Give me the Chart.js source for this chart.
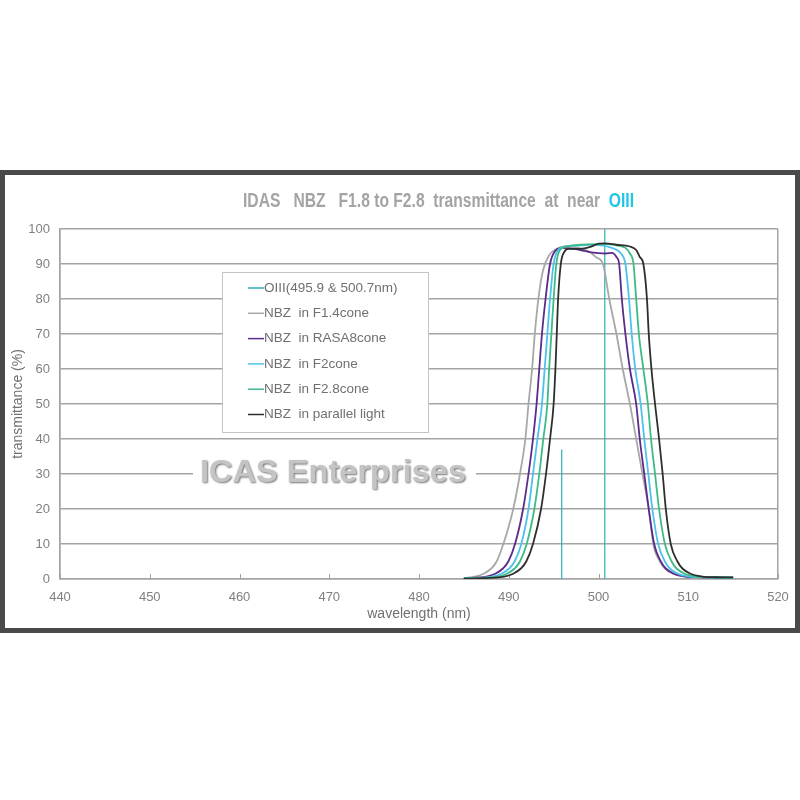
<!DOCTYPE html>
<html>
<head>
<meta charset="utf-8">
<script src="https://cdn.jsdelivr.net/npm/chart.js@4"></script>
<style>
  html,body{margin:0;padding:0;background:#fff}
</style>
</head>
<body>
<canvas id="chart" width="800" height="800"></canvas>
<script>
// wavelength (nm) / transmittance (%)
const f14Wl = [485,486.2,487.2,488.05,488.65,489.4,490,490.5,490.9,491.25,491.85,492.2,492.6,492.9,493.3,493.8,494.5,495.3,496.3,497,498,499,499.7,500.5,501.2,502,502.7,503.5,504.2,504.9,505.6,506.1,506.85,507.4,508.3,509.6,511.5,515];
const f14T  = [0.3,0.7,1.5,3,5,10,15,20,25,30,40,50,60,70,80,88,92.5,94.3,95,94.9,94.5,93.5,92,90,80,70,60,50,40,30,20,10,5,3,1.5,0.7,0.5,0.4];

const rasaWl = [485,487.5,488.5,489.35,489.95,490.7,491.6,492.2,492.7,493.1,493.4,493.7,494.1,494.6,495.2,496,497,498,499,500,500.8,501.5,502,502.3,502.6,503,503.5,504.2,504.6,505.1,505.6,506.2,506.95,507.5,508.4,509.7,511.5,515];
const rasaT  = [0.2,0.7,1.5,3,5,10,20,30,40,50,60,70,80,90,93.8,94.6,94.4,94,93.4,93.1,93,93.2,92,90,80,70,60,50,40,30,20,10,5,3,1.5,0.7,0.5,0.4];

const f2Wl = [485,488.2,489.2,490.05,490.65,491.4,492.2,492.7,493.2,493.7,494,494.3,494.6,495,495.5,496.3,497.5,499,500,501,501.8,502.5,503,503.4,503.7,504.1,504.7,505.1,505.55,506,506.65,507.4,507.95,508.85,510.15,512,515];
const f2T  = [0.2,0.7,1.5,3,5,10,20,30,40,50,60,70,80,90,94,95,95.2,95.5,95.4,95,94.3,93,90,80,70,60,50,40,30,20,10,5,3,1.5,0.7,0.5,0.4];

const f28Wl = [485,488.8,489.8,490.65,491.25,492,492.85,493.4,493.85,494.3,494.5,494.75,495,495.3,495.7,496.4,498,500,501,502,503,503.5,503.9,504.2,504.5,505,505.5,505.85,506.3,506.75,507.4,508.15,508.7,509.6,510.9,512.5,515];
const f28T  = [0.15,0.7,1.5,3,5,10,20,30,40,50,60,70,80,90,94,95,95.5,95.7,95.7,95.3,94.6,93,90,80,70,60,50,40,30,20,10,5,3,1.5,0.7,0.5,0.4];

const parWl = [485,489.5,490.5,491.35,491.95,492.7,493.6,494.15,494.6,495,495.2,495.35,495.5,495.8,496.2,496.7,498,499,500,500.7,502,503.5,504.2,504.6,505,505.4,505.6,505.9,506.3,506.75,507.15,507.5,508.05,508.8,509.35,510.25,511.55,513,515];
const parT  = [0.1,0.7,1.5,3,5,10,20,30,40,50,60,70,80,90,93.5,94.3,94.3,94.8,95.8,95.9,95.5,95,94,92,90,80,70,60,50,40,30,20,10,5,3,1.5,0.7,0.5,0.45];

// OIII marker lines (null breaks the line between the two)
const o3Wl = [495.9,495.9,498,500.7,500.7];
const o3T  = [0,37,null,0,100];

const seriesLabels = ['OIII(495.9 & 500.7nm)','NBZ  in F1.4cone','NBZ  in RASA8cone','NBZ  in F2cone','NBZ  in F2.8cone','NBZ  in parallel light'];
const seriesColors = ['#2fb0b4','#a8a8a8','#5c2a8a','#4cc2ec','#3dbb84','#2e2e2e'];
const xTicks = [440,450,460,470,480,490,500,510,520];

const pts = (xs, ys) => xs.map((x,i)=>({x, y:ys[i]}));

const frame = {
  id:'frame',
  beforeDraw(chart){
    const ctx = chart.ctx;
    ctx.save();
    ctx.fillStyle='#fff';
    ctx.fillRect(0,0,chart.width,chart.height);
    ctx.strokeStyle='#4a4a4a';
    ctx.lineWidth=5;
    ctx.strokeRect(2.5,172.5,795,458);
    ctx.restore();

    // title, squeezed to the narrow width of the original
    ctx.save();
    ctx.font='bold 20px "Liberation Sans", Arial';
    ctx.textBaseline='middle';
    const t1 = 'IDAS   NBZ   F1.8 to F2.8  transmittance  at  near  ';
    const w1 = ctx.measureText(t1).width;
    const w = w1 + ctx.measureText('OIII').width;
    ctx.translate(243,201);
    ctx.scale(391/w,1);
    ctx.fillStyle='#a4a4a4';
    ctx.fillText(t1,0,0);
    ctx.fillStyle='#1ec6e4';
    ctx.fillText('OIII',w1,0);
    ctx.restore();
  },
  beforeDatasetsDraw(chart){
    const ctx = chart.ctx;
    const xs = chart.scales.x, ys = chart.scales.y;
    // small inner ticks on the x axis
    ctx.save();
    ctx.strokeStyle='#a4a4a4'; ctx.lineWidth=1;
    const y0 = ys.getPixelForValue(0);
    xTicks.forEach(v=>{
      const px = Math.round(xs.getPixelForValue(v))+0.5;
      ctx.beginPath(); ctx.moveTo(px,y0); ctx.lineTo(px,y0-5); ctx.stroke();
    });
    ctx.restore();

    // watermark
    ctx.save();
    ctx.fillStyle='#fff';
    ctx.fillRect(193,456,283,34);
    ctx.font='bold 32px "Liberation Sans", Arial';
    ctx.textBaseline='middle';
    const tw = ctx.measureText('ICAS Enterprises').width;
    ctx.translate(200,473);
    ctx.scale(266/tw,1);
    ctx.shadowColor='rgba(0,0,0,0.55)';
    ctx.shadowOffsetX=1; ctx.shadowOffsetY=1; ctx.shadowBlur=2;
    ctx.fillStyle='#c4c4c4';
    ctx.fillText('ICAS Enterprises',0,0);
    ctx.restore();

    // legend box
    ctx.save();
    ctx.fillStyle='#fff';
    ctx.fillRect(222,272,206,160);
    ctx.strokeStyle='#c4c4c4';
    ctx.lineWidth=1;
    ctx.strokeRect(222.5,272.5,206,160);
    ctx.font='13.5px "Liberation Sans", Arial';
    ctx.textBaseline='middle';
    chart.data.datasets.forEach((ds,i)=>{
      const y = 288 + i*25.3;
      ctx.strokeStyle=ds.borderColor;
      ctx.lineWidth=1.5;
      ctx.beginPath(); ctx.moveTo(248,y); ctx.lineTo(264,y); ctx.stroke();
      ctx.fillStyle='#707070';
      ctx.fillText(ds.label,264,y);
    });
    ctx.restore();
  }
};

const datasets = [
  {label:seriesLabels[0], data:pts(o3Wl,o3T), borderColor:seriesColors[0], borderWidth:1.2, tension:0},
  {label:seriesLabels[1], data:pts(f14Wl,f14T), borderColor:seriesColors[1], borderWidth:1.8},
  {label:seriesLabels[2], data:pts(rasaWl,rasaT), borderColor:seriesColors[2], borderWidth:1.8},
  {label:seriesLabels[3], data:pts(f2Wl,f2T), borderColor:seriesColors[3], borderWidth:1.8},
  {label:seriesLabels[4], data:pts(f28Wl,f28T), borderColor:seriesColors[4], borderWidth:1.8},
  {label:seriesLabels[5], data:pts(parWl,parT), borderColor:seriesColors[5], borderWidth:1.8}
];
datasets.forEach((d,i)=>{
  d.showLine=true; d.pointRadius=0; d.fill=false; d.spanGaps=false;
  if(i>0) d.cubicInterpolationMode='monotone';
  d.order = 6-i;
});

new Chart(document.getElementById('chart'), {
  type:'scatter',
  data:{ datasets },
  plugins:[frame],
  options:{
    responsive:false,
    animation:false,
    layout:{ padding:{ left:0, top:229, right:22, bottom:171 } },
    plugins:{ legend:{display:false}, tooltip:{enabled:false} },
    scales:{
      x:{
        min:440, max:520,
        afterBuildTicks: s => { s.ticks = xTicks.map(v=>({value:v})); },
        afterFit: s => { s.height = 50; },
        grid:{ drawTicks:false, lineWidth:1.5,
               color: c => (c.tick && (c.tick.value===440 || c.tick.value===520)) ? '#a4a4a4' : 'transparent' },
        border:{ color:'#a4a4a4', width:1.5 },
        ticks:{ padding:11, color:'#808080', font:{ family:'"Liberation Sans", Arial', size:13 } },
        title:{ display:true, text:'wavelength (nm)', color:'#707070', padding:{top:0,bottom:6},
                font:{ family:'"Liberation Sans", Arial', size:14 } }
      },
      y:{
        min:0, max:100,
        afterFit: s => { s.width = 60; },
        grid:{ drawTicks:false, color:'#a4a4a4', lineWidth:1.5 },
        border:{ color:'#a4a4a4', width:1.5 },
        ticks:{ stepSize:10, padding:10, color:'#808080', font:{ family:'"Liberation Sans", Arial', size:13 } },
        title:{ display:true, text:'transmittance (%)', color:'#707070', padding:{top:10,bottom:0},
                font:{ family:'"Liberation Sans", Arial', size:14 } }
      }
    }
  }
});
</script>
</body>
</html>
